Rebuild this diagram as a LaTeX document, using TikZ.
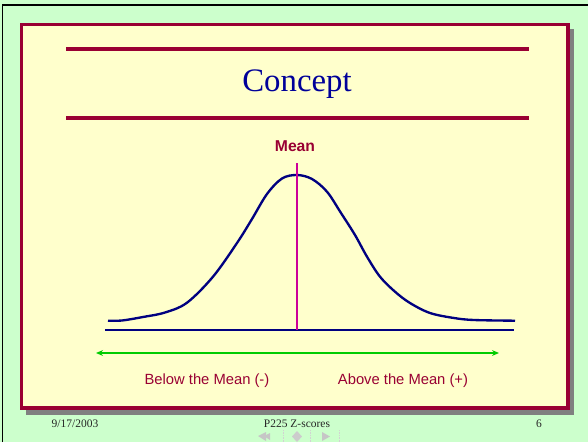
\documentclass[tikz,border=0pt]{standalone}
\usepackage{fontspec}
\setmainfont{Liberation Serif}
\setsansfont{Liberation Sans}
\usepackage{xcolor}
\usetikzlibrary{arrows.meta}

\definecolor{slidegreen}{HTML}{CCFFCC}
\definecolor{panelyellow}{HTML}{FFFFCC}
\definecolor{panelred}{HTML}{990033}
\definecolor{titleblue}{HTML}{000099}
\definecolor{curveblue}{HTML}{000080}
\definecolor{meanpink}{HTML}{CC0099}
\definecolor{arrowgreen}{HTML}{00CC00}

\begin{document}
\begin{tikzpicture}[x=0.03cm,y=-0.03cm,>=Stealth]
        \useasboundingbox (0,0) rectangle (588,442);
        % 背景与边框
        \fill [slidegreen] (0,0) rectangle (588,442);
        \draw [black,line width=1.6pt] (2.5,442) -- (2.5,5) -- (588,5);
        \fill [gray] (26,29) rectangle (574,415);
        \draw [panelred,line width=3pt,fill=panelyellow] (21.5,24.5) rectangle (568,408);
        % 标题
        \draw [panelred,line width=3pt] (66,49) -- (529,49);
        \draw [panelred,line width=3pt] (66,118) -- (529,118);
        \node (title) [titleblue,font=\fontsize{28}{32}\selectfont] at (297,84) {Concept};
        % 正态曲线
        \draw [curveblue,line width=2pt] plot[smooth,tension=0.55] coordinates {
            (108,320.7) (122,320.5) (143,317) (165,312.5) (187,302.7) (213,276.7)
            (237,243) (252,219) (267,194) (282,178.5) (297,175) (312,179)
            (327,191.7) (341,213) (355,235) (367,256.7) (380,276.7) (395,291.7)
            (410,303) (430,313) (454,318) (474,320) (515,320.7)};
        \draw [curveblue,line width=1.5pt] (105,330) -- (514,330);
        % 均值
        \node (mean) [panelred,font=\fontsize{13.4}{15}\selectfont\sffamily\bfseries] at (295,146) {Mean};
        \coordinate (peaktop) at (297,163);
        \coordinate (peakbase) at (297,330);
        \draw [meanpink,line width=1.7pt] (peaktop) -- (peakbase);
        % 方向箭头
        \coordinate (leftend) at (96,353);
        \coordinate (rightend) at (499,353);
        \draw [arrowgreen,line width=1.6pt,{Stealth[length=6pt,width=5pt]}-{Stealth[length=6pt,width=5pt]}] (leftend) -- (rightend);
        \node (below) [panelred,font=\fontsize{12.6}{14}\selectfont\sffamily] at (207,381) {Below the Mean (-)};
        \node (above) [panelred,font=\fontsize{12.6}{14}\selectfont\sffamily] at (403,381) {Above the Mean (+)};
        % 页脚
        \node (date) [black!85,font=\fontsize{9.8}{11}\selectfont] at (75,424) {9/17/2003};
        \node (course) [black!85,font=\fontsize{9.8}{11}\selectfont] at (297,424) {P225 Z-scores};
        \node (page) [black!85,font=\fontsize{9.8}{11}\selectfont] at (539,424) {6};
        % 导航按钮
        \fill [gray!45] (258,436) -- (266,432) -- (266,441) -- cycle;
        \fill [gray!45] (264,436) -- (270,433) -- (270,440) -- cycle;
        \draw [gray!35,densely dotted] (283,430) -- (283,442);
        \fill [gray!40] (297,431) -- (302,436.5) -- (297,442) -- (292,436.5) -- cycle;
        \draw [gray!35,densely dotted] (310,430) -- (310,442);
        \fill [gray!45] (322,432) -- (330,436.5) -- (322,441) -- cycle;
        \draw [gray!35,densely dotted] (339,430) -- (339,442);
    \end{tikzpicture}
\end{document}
